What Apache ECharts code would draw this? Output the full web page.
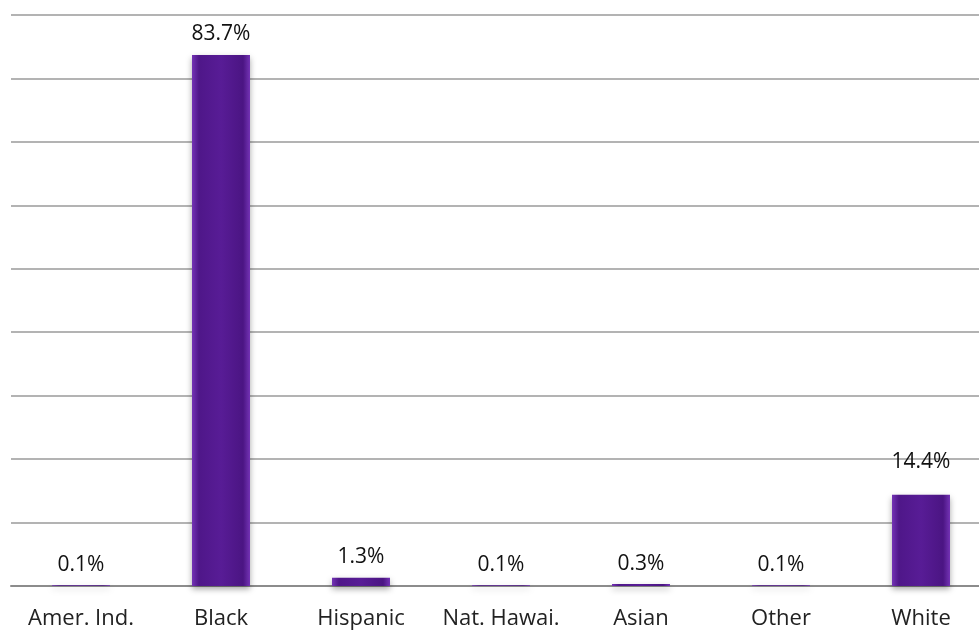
<!DOCTYPE html>
<html><head><meta charset="utf-8">
<script src="https://cdn.jsdelivr.net/npm/echarts@6/dist/echarts.min.js"></script>
<style>html,body{margin:0;padding:0;background:#fff}#c{width:979px;height:640px}</style>
</head><body><div id="c"></div>
<script>
const categories = ['Amer. Ind.', 'Black', 'Hispanic', 'Nat. Hawai.', 'Asian', 'Other', 'White'];
const values = [0.1, 83.7, 1.3, 0.1, 0.3, 0.1, 14.4];
const yMax = 90;
const yInterval = 10;

const chart = echarts.init(document.getElementById('c'));
const font = '"Open Sans", sans-serif';
const seriesData = values.map((v, i) => i === categories.length - 1
  ? { value: v, label: { distance: 22 } }
  : v);
chart.setOption({
  animation: false,
  grid: { left: 11, width: 980, top: 15, bottom: 54, outerBoundsMode: 'none', containLabel: false },
  xAxis: {
    type: 'category', data: categories,
    axisLine: { show: true, lineStyle: { color: '#8c8c8c', width: 2 } },
    axisTick: { show: false },
    axisLabel: { fontFamily: font, fontSize: 22, color: '#222', margin: 22, interval: 0, hideOverlap: false }
  },
  yAxis: {
    type: 'value', min: 0, max: yMax, interval: yInterval,
    axisLine: { show: false }, axisTick: { show: false },
    axisLabel: { show: false },
    splitLine: { lineStyle: { color: '#9a9a9a', width: 1.5 } }
  },
  series: [{
    type: 'bar', data: seriesData, barWidth: 58,
    itemStyle: {
      color: new echarts.graphic.LinearGradient(0, 0, 1, 0, [
        { offset: 0, color: '#7433b5' },
        { offset: 0.12, color: '#4f1789' },
        { offset: 0.5, color: '#581c96' },
        { offset: 0.88, color: '#4b1583' },
        { offset: 1, color: '#7433b5' }
      ]),
      shadowColor: 'rgba(0,0,0,0.35)', shadowBlur: 6, shadowOffsetY: 3
    },
    label: {
      show: true, position: 'top', distance: 10,
      formatter: p => p.value.toFixed(1) + '%',
      fontFamily: font, fontSize: 21, color: '#111'
    }
  }]
});
</script></body></html>
